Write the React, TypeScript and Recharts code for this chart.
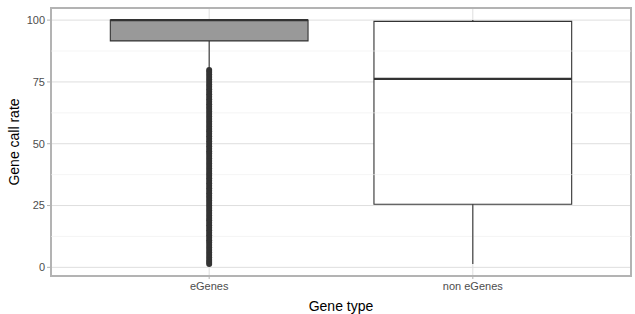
import React from 'react';
import {
  ComposedChart,
  XAxis,
  YAxis,
  CartesianGrid,
  Scatter,
  ReferenceArea,
  ReferenceLine,
} from 'recharts';

// gene types on the x axis (positions 1 and 2)
const categories = ['eGenes', 'non eGenes'];
const positions = [1, 2];
const boxFills = ['#999999', '#ffffff'];

// box stats
const lowerWhisker = [80, 1.4];
const q1 = [91.6, 25.5];
const median = [100, 76.2];
const q3 = [100, 99.5];
const upperWhisker = [100, 100];

// eGenes outliers, so many that they merge into a solid bar
const eGeneOutliers = [
  79.8, 79, 78, 77, 76, 75, 74, 73, 72, 71, 70, 69, 68, 67, 66, 65, 64, 63,
  62, 61, 60, 59, 58, 57, 56, 55, 54, 53, 52, 51, 50, 49, 48, 47, 46, 45, 44,
  43, 42, 41, 40, 39, 38, 37, 36, 35, 34, 33, 32, 31, 30, 29, 28, 27, 26, 25,
  24, 23, 22, 21, 20, 19, 18, 17, 16, 15, 14, 13, 12, 11, 10, 9, 8, 7, 6, 5,
  4, 3, 2.2, 1.4,
];

const yTicks = [0, 25, 50, 75, 100];
const yMinor = [12.5, 37.5, 62.5, 87.5];
const BOX_HALF = 0.375;

const tickStyle = {
  fontSize: 11,
  fill: '#4d4d4d',
  stroke: 'none',
  fontFamily: 'Liberation Sans, Arial, sans-serif',
};

const App: React.FC = () => {
  const outlierData = eGeneOutliers.map((v) => ({ x: positions[0], y: v }));

  return (
    <div style={{ position: 'absolute', left: 0, top: 0, width: 635, height: 314, background: '#fff' }}>
      <ComposedChart width={635} height={314} margin={{ top: 8, right: 4, bottom: 0, left: 0 }}>
        <CartesianGrid stroke="#dedede" strokeWidth={1} />
        {yMinor.map((v) => (
          <ReferenceLine key={`minor-${v}`} y={v} stroke="#efefef" strokeWidth={0.6} />
        ))}

        <XAxis
          type="number"
          dataKey="x"
          domain={[0.4, 2.6]}
          allowDataOverflow
          ticks={positions}
          tickFormatter={(v) => categories[v - 1]}
          tick={tickStyle}
          tickSize={3}
          tickMargin={3}
          tickLine={{ stroke: '#b3b3b3' }}
          axisLine={false}
          height={38}
          label={{
            value: 'Gene type',
            position: 'insideBottom',
            offset: 3,
            fill: '#000',
            fontSize: 14,
            fontFamily: 'Liberation Sans, Arial, sans-serif',
          }}
        />
        <YAxis
          type="number"
          dataKey="y"
          domain={[-3.5, 104.9]}
          allowDataOverflow
          ticks={yTicks}
          tick={tickStyle}
          tickSize={4}
          tickMargin={2}
          tickLine={{ stroke: '#b3b3b3' }}
          axisLine={false}
          width={51}
          label={({ viewBox }: any) => (
            <text
              x={14}
              y={viewBox.y + viewBox.height / 2}
              transform={`rotate(-90 14 ${viewBox.y + viewBox.height / 2})`}
              textAnchor="middle"
              dominantBaseline="central"
              fontSize={14}
              fontFamily="Liberation Sans, Arial, sans-serif"
              fill="#000"
            >
              Gene call rate
            </text>
          )}
        />

        {/* whiskers */}
        {positions.map((p, i) => (
          <ReferenceLine
            key={`lw-${i}`}
            segment={[{ x: p, y: lowerWhisker[i] }, { x: p, y: q1[i] }]}
            stroke="#333333"
            strokeWidth={1.1}
          />
        ))}
        {positions.map((p, i) => (
          <ReferenceLine
            key={`uw-${i}`}
            segment={[{ x: p, y: q3[i] }, { x: p, y: upperWhisker[i] }]}
            stroke="#333333"
            strokeWidth={1.1}
          />
        ))}

        {/* boxes */}
        {positions.map((p, i) => (
          <ReferenceArea
            key={`box-${i}`}
            x1={p - BOX_HALF}
            x2={p + BOX_HALF}
            y1={q1[i]}
            y2={q3[i]}
            fill={boxFills[i]}
            fillOpacity={1}
            stroke="#333333"
            strokeWidth={1.1}
          />
        ))}

        {/* medians */}
        {positions.map((p, i) => (
          <ReferenceLine
            key={`med-${i}`}
            segment={[{ x: p - BOX_HALF, y: median[i] }, { x: p + BOX_HALF, y: median[i] }]}
            stroke="#333333"
            strokeWidth={2.2}
          />
        ))}

        <Scatter
          data={outlierData}
          dataKey="y"
          fill="#333333"
          isAnimationActive={false}
          shape={(props: any) => <circle cx={props.cx} cy={props.cy} r={3} fill="#333333" />}
        />

        {/* panel border */}
        <ReferenceArea
          x1={0.4}
          x2={2.6}
          y1={-3.5}
          y2={104.9}
          fill="none"
          stroke="#b3b3b3"
          strokeWidth={2}
          ifOverflow="visible"
        />
      </ComposedChart>
    </div>
  );
};

export default App;
